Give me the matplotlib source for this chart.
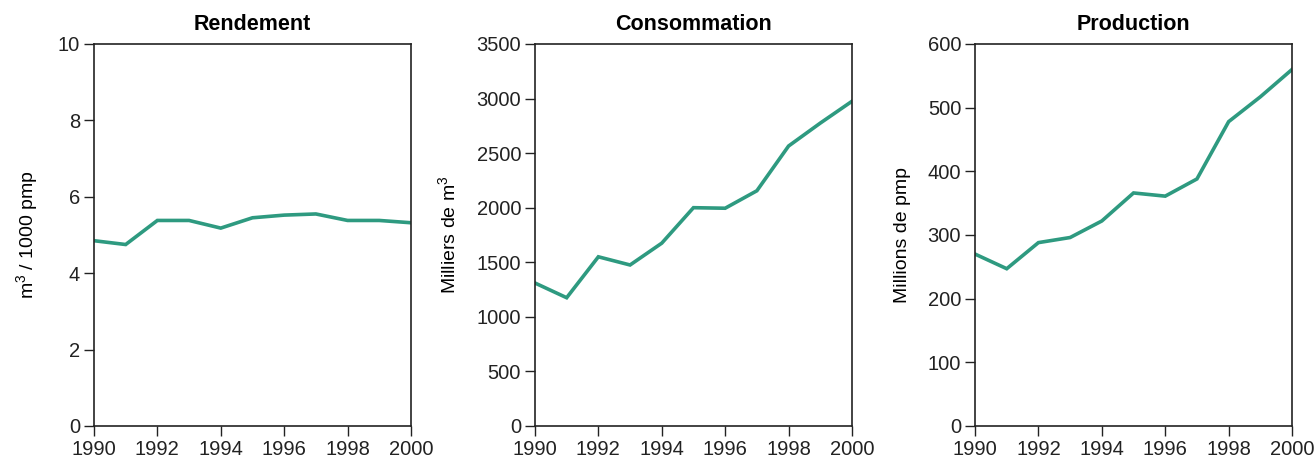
import matplotlib
matplotlib.use('Agg')
import matplotlib.pyplot as plt

years = list(range(1990, 2001))
rendement = [4.85, 4.75, 5.38, 5.38, 5.18, 5.45, 5.52, 5.55, 5.38, 5.38, 5.32]
consommation = [1310, 1175, 1550, 1475, 1675, 2000, 1995, 2155, 2565, 2775, 2975]
production = [270, 247, 288, 296, 322, 366, 361, 388, 478, 517, 560]

titles = ['Rendement', 'Consommation', 'Production']
ylabels = ['m$^3$ / 1000 pmp', 'Milliers de m$^3$', 'Millions de pmp']
ylims = [(0, 10), (0, 3500), (0, 600)]
ysteps = [2, 500, 100]
line_color = '#2e9a80'

plt.rcParams['font.family'] = ['Liberation Sans', 'DejaVu Sans']
plt.rcParams['mathtext.fontset'] = 'custom'
plt.rcParams['mathtext.rm'] = 'Liberation Sans'

fig = plt.figure(figsize=(13.16, 4.63), dpi=100)
lefts = [0.0714, 0.4065, 0.7409]
series = [rendement, consommation, production]

for left, title, ylab, ylim, step, values in zip(lefts, titles, ylabels, ylims, ysteps, series):
    ax = fig.add_axes([left, 0.080, 0.2409, 0.825])
    ax.plot(years, values, color=line_color, lw=2.6, solid_joinstyle='miter')
    ax.set_xlim(1990, 2000)
    ax.set_ylim(*ylim)
    ax.set_xticks(range(1990, 2001, 2))
    ax.set_yticks(range(ylim[0], ylim[1] + 1, step))
    ax.tick_params(direction='out', length=7, width=1, labelsize=14.5, pad=3, colors='#222222')
    ax.set_title(title, fontsize=15.5, fontweight='bold', pad=10)
    ax.set_ylabel(ylab, fontsize=14, labelpad=12)
    for sp in ax.spines.values():
        sp.set_linewidth(1.2)
        sp.set_color('#222222')

fig.savefig('out.png', dpi=100)
